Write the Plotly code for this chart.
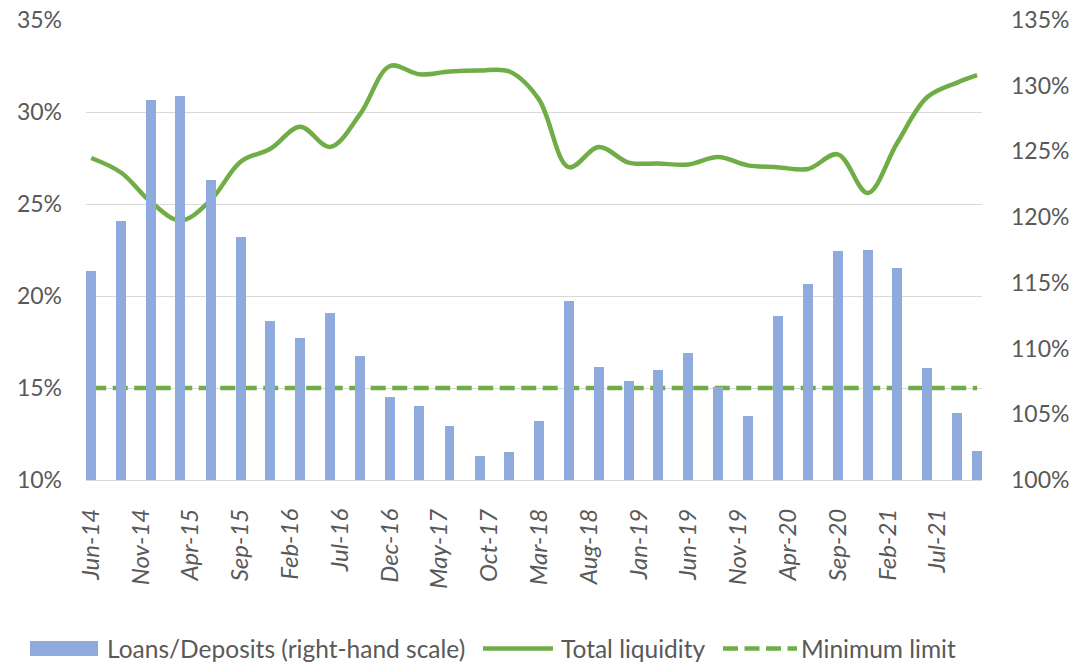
import plotly.graph_objects as go

# Quarterly observation dates (last point is November 2021)
obs_dates = [
    "2014-06-01", "2014-09-01", "2014-12-01", "2015-03-01", "2015-06-01",
    "2015-09-01", "2015-12-01", "2016-03-01", "2016-06-01", "2016-09-01",
    "2016-12-01", "2017-03-01", "2017-06-01", "2017-09-01", "2017-12-01",
    "2018-03-01", "2018-06-01", "2018-09-01", "2018-12-01", "2019-03-01",
    "2019-06-01", "2019-09-01", "2019-12-01", "2020-03-01", "2020-06-01",
    "2020-09-01", "2020-12-01", "2021-03-01", "2021-06-01", "2021-09-01",
    "2021-11-01",
]

# Loans/Deposits ratio, % (right-hand scale)
loans_deposits = [
    115.9, 119.7, 128.9, 129.2, 122.8, 118.5, 112.1, 110.8, 112.7, 109.4,
    106.3, 105.6, 104.1, 101.8, 102.1, 104.5, 113.6, 108.6, 107.5, 108.4,
    109.7, 107.1, 104.9, 112.5, 114.9, 117.4, 117.5, 116.1, 108.5, 105.1,
    102.2,
]

# Total liquidity ratio, % (left-hand scale)
total_liquidity = [
    27.5, 26.7, 25.1, 24.1, 25.2, 27.3, 28.0, 29.2, 28.1, 29.9,
    32.5, 32.05, 32.2, 32.25, 32.2, 30.7, 27.0, 28.1, 27.25, 27.2,
    27.15, 27.55, 27.1, 27.0, 26.9, 27.7, 25.6, 28.3, 30.8, 31.6,
    32.0,
]

# Regulatory minimum for total liquidity, %
limit_dates = ["2014-06-01", "2021-11-01"]
limit_values = [15.0, 15.0]

BLUE = "#8FAADC"
GREEN = "#70AD47"
GREY_TXT = "#595959"
GRID = "#D9D9D9"
FONT = "Lato"
FS = 23
FS_LEG = 24.5

W, H = 1071, 662
ML, MR, MT, MB = 86, 89, 20, 182
PW, PH = W - ML - MR, H - MT - MB

DAY_MS = 86400000

fig = go.Figure()

fig.add_trace(go.Bar(
    x=obs_dates, y=loans_deposits, yaxis="y2",
    name="Loans/Deposits (right-hand scale)",
    marker=dict(color=BLUE, line=dict(width=0)),
    width=30.5 * DAY_MS, showlegend=False,
))

fig.add_trace(go.Scatter(
    x=obs_dates, y=total_liquidity, mode="lines",
    name="Total liquidity",
    line=dict(color=GREEN, width=4.5, shape="spline", smoothing=1.0),
    showlegend=False,
))

fig.add_trace(go.Scatter(
    x=limit_dates, y=limit_values, mode="lines",
    name="Minimum limit",
    line=dict(color=GREEN, width=4.5, dash="15px,6.5px"),
    showlegend=False,
))


def px_x(px):
    return (px - ML) / PW


def px_y(py):
    return (H - MB - py) / PH


tick_font = dict(family=FONT, size=FS, color=GREY_TXT)

# Legend drawn below the plot
shapes = [
    dict(type="rect", xref="paper", yref="paper",
         x0=px_x(30), x1=px_x(98), y0=px_y(656), y1=px_y(641),
         fillcolor=BLUE, line=dict(width=0)),
    dict(type="line", xref="paper", yref="paper",
         x0=px_x(483), x1=px_x(553), y0=px_y(648.5), y1=px_y(648.5),
         line=dict(color=GREEN, width=4.5)),
    dict(type="line", xref="paper", yref="paper",
         x0=px_x(723), x1=px_x(797), y0=px_y(648.5), y1=px_y(648.5),
         line=dict(color=GREEN, width=4.5, dash="15px,6.5px")),
]

legend_items = [
    (105, "Loans/Deposits (right-hand scale)"),
    (559, "Total liquidity"),
    (799, "Minimum limit"),
]
annotations = [
    dict(xref="paper", yref="paper", x=px_x(x), y=px_y(648.5),
         xanchor="left", yanchor="middle", text=t, showarrow=False,
         font=dict(family=FONT, size=FS_LEG, color=GREY_TXT))
    for x, t in legend_items
]

fig.update_layout(
    width=W, height=H,
    margin=dict(l=ML, r=MR, t=MT, b=MB, pad=0, autoexpand=False),
    paper_bgcolor="white", plot_bgcolor="white",
    font=dict(family=FONT, size=FS, color=GREY_TXT),
    bargap=0,
    shapes=shapes,
    annotations=annotations,
    xaxis=dict(
        type="date",
        range=["2014-05-16", "2021-11-16"],
        tick0="2014-06-01", dtick="M5", tickformat="%b-%y",
        tickangle=-90,
        tickfont=dict(family=FONT, size=24, color=GREY_TXT, style="italic"),
        ticks="", showgrid=False,
        showline=True, linecolor=GRID, linewidth=1.3,
        ticklabelstandoff=18, automargin=False,
    ),
    yaxis=dict(
        range=[10, 35], dtick=5, ticksuffix="%",
        showgrid=True, gridcolor=GRID, gridwidth=1.3,
        zeroline=False, ticks="", tickfont=tick_font,
        ticklabelstandoff=23, automargin=False,
    ),
    yaxis2=dict(
        range=[100, 135], dtick=5, ticksuffix="%",
        overlaying="y", side="right",
        showgrid=False, zeroline=False, ticks="", tickfont=tick_font,
        ticklabelstandoff=28, automargin=False,
    ),
)

fig.write_html("out.html")
